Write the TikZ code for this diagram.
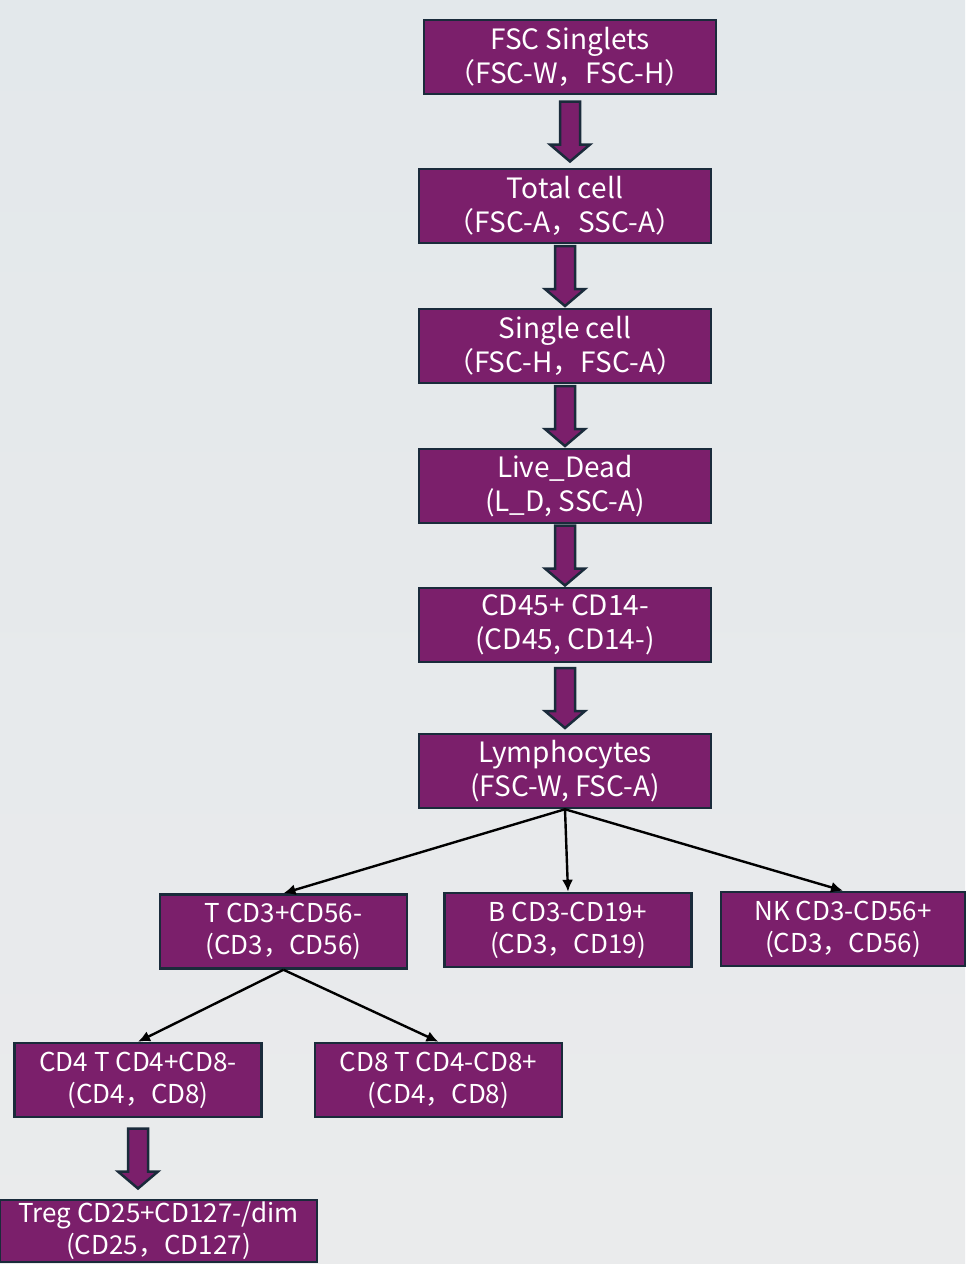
\documentclass[tikz,border=0pt]{standalone}
\usepackage{fontspec}
\setmainfont{Noto Sans CJK SC}
\usetikzlibrary{calc,arrows.meta}

\definecolor{gatepurple}{RGB}{123,31,107}
\definecolor{gateborder}{RGB}{26,43,59}
\definecolor{bgtop}{RGB}{227,232,235}
\definecolor{bgbottom}{RGB}{234,235,236}

\newcommand{\gatearrow}[2]{%
  \draw[fat arrow] let \p1=(#1.south), \p2=(#2.north), \p3=($(#1.south)!0.5!(#2.north)$) in
    (\x1-5pt,\y3+15pt) -- (\x1+5pt,\y3+15pt) -- (\x1+5pt,\y3-6.5pt) -- (\x1+10pt,\y3-6.5pt)
    -- (\x1,\y3-15pt) -- (\x1-10pt,\y3-6.5pt) -- (\x1-5pt,\y3-6.5pt) -- cycle;}

\begin{document}
\begin{tikzpicture}[x=0.5pt, y=-0.5pt, node distance=70pt,
                    gate box/.style={rectangle, draw=gateborder, line width=1.25pt, fill=gatepurple,
                                     text=white, align=center, inner sep=0pt,
                                     minimum width=146pt, minimum height=37pt,
                                     font=\fontsize{14}{17}\selectfont},
                    subset box/.style={gate box, minimum width=123.5pt, font=\fontsize{13}{16}\selectfont},
                    fat arrow/.style={draw=gateborder, line width=1.25pt, fill=gatepurple, line join=miter},
                    thin arrow/.style={-{Latex[length=6pt,width=5.5pt]}, line width=1.2pt, black}]

  \useasboundingbox (0,0) rectangle (965,1264);
  \shade[top color=bgtop, bottom color=bgbottom] (0,0) rectangle (965,1264);

  \node[gate box] (fsc) at (570,57) {FSC Singlets\\（FSC-W，FSC-H）};
  \node[gate box] (total) [below of=fsc, node distance=74.5pt, xshift=-2.5pt] {Total cell\\（FSC-A，SSC-A）};
  \node[gate box] (single) [below of=total] {Single cell\\（FSC-H，FSC-A）};
  \node[gate box] (live) [below of=single] {Live\_Dead\\(L\_D, SSC-A)};
  \node[gate box] (cd45) [below of=live, node distance=69.5pt] {CD45+ CD14-\\(CD45, CD14-)};
  \node[gate box] (lym) [below of=cd45, node distance=73pt] {Lymphocytes\\(FSC-W, FSC-A)};

  \node[subset box] (t) at (283.5,931.5) {T CD3+CD56-\\(CD3，CD56)};
  \node[subset box] (b) at (568,930) {B CD3-CD19+\\(CD3，CD19)};
  \node[subset box, minimum width=122pt] (nk) at (843,929) {NK CD3-CD56+\\(CD3，CD56)};

  \node[subset box] (cd4) at (138,1080) {CD4 T CD4+CD8-\\(CD4，CD8)};
  \node[subset box] (cd8) at (438.5,1080) {CD8 T CD4-CD8+\\(CD4，CD8)};
  \node[subset box, minimum width=158.5pt, minimum height=31pt] (treg) at (158.5,1231) {Treg CD25+CD127-/dim\\(CD25，CD127)};

  \gatearrow{fsc}{total}
  \gatearrow{total}{single}
  \gatearrow{single}{live}
  \gatearrow{live}{cd45}
  \gatearrow{cd45}{lym}
  \gatearrow{cd4}{treg}

  \path[thin arrow]
    (lym.south) edge (t.north)
                edge (b.north)
                edge (nk.north)
    (t.south) edge (cd4.north)
              edge (cd8.north);

\end{tikzpicture}
\end{document}
